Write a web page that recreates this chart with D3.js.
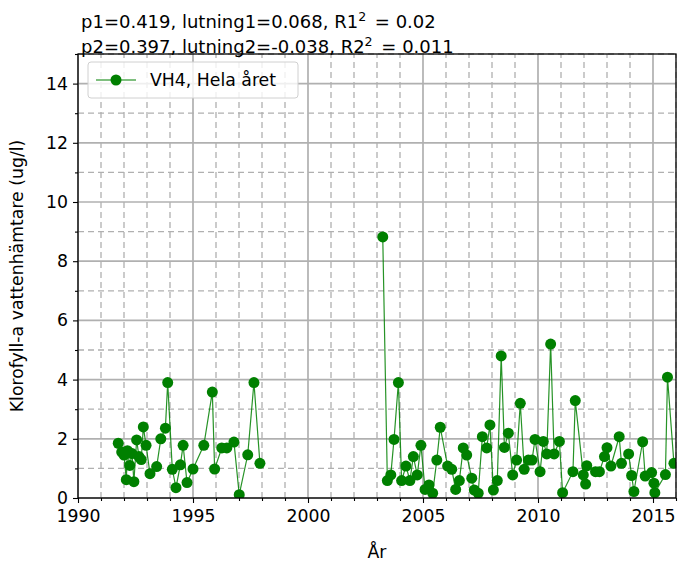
<!DOCTYPE html>
<html>
<head>
<meta charset="utf-8">
<script src="https://cdn.jsdelivr.net/npm/d3@7"></script>
<style>
  body { margin: 0; background: #fff; }
  text { font-family: "DejaVu Sans", sans-serif; }
</style>
</head>
<body>
<svg id="chart" width="678" height="562"></svg>
<script>
// --------------------------
// DATA
// --------------------------
const seriesName = "VH4, Hela året";

// decimal year of each sample, null = break in the line
const years = [
    1991.75, 1991.9, 1992.0, 1992.1, 1992.15, 1992.25, 1992.35, 1992.43, 1992.55, 1992.65,
    1992.75, 1992.84, 1992.96, 1993.13, 1993.42, 1993.6, 1993.8, 1993.9, 1994.1, 1994.26,
    1994.45, 1994.57, 1994.74, 1995.0, 1995.47, 1995.84, 1995.94, 1996.25, 1996.47, 1996.78,
    1997.01, 1997.38, 1997.65, 1997.91,
    null,
    2003.25, 2003.45, 2003.6, 2003.74, 2003.93, 2004.07, 2004.26, 2004.43, 2004.58, 2004.75,
    2004.91, 2005.09, 2005.26, 2005.42, 2005.6, 2005.75, 2006.07, 2006.25, 2006.42, 2006.58,
    2006.75, 2006.9, 2007.12, 2007.23, 2007.4, 2007.58, 2007.77, 2007.91, 2008.06, 2008.23,
    2008.4, 2008.54, 2008.71, 2008.9, 2009.07, 2009.23, 2009.4, 2009.58, 2009.74, 2009.87,
    2010.09, 2010.23, 2010.38, 2010.55, 2010.7, 2010.93, 2011.07, 2011.52, 2011.62, 2011.97,
    2012.07, 2012.12, 2012.5, 2012.67, 2012.89, 2013.0, 2013.17, 2013.53, 2013.63, 2013.94,
    2014.07, 2014.17, 2014.55, 2014.66, 2014.94, 2015.04, 2015.08, 2015.54, 2015.63, 2015.91
];

// Klorofyll-a (ug/l)
const chl = [
    1.85, 1.55, 1.45, 0.62, 1.6, 1.1, 1.5, 0.55, 1.96, 1.4,
    1.3, 2.4, 1.78, 0.82, 1.06, 2.0, 2.36, 3.9, 0.97, 0.35,
    1.12, 1.78, 0.52, 0.98, 1.78, 3.58, 0.98, 1.69, 1.69, 1.89,
    0.11, 1.46, 3.9, 1.17,
    null,
    8.82, 0.59, 0.78, 1.98, 3.9, 0.59, 1.08, 0.59, 1.4, 0.78,
    1.78, 0.29, 0.44, 0.16, 1.28, 2.39, 1.08, 0.97, 0.29, 0.59,
    1.69, 1.45, 0.67, 0.27, 0.16, 2.07, 1.69, 2.47, 0.27, 0.59,
    4.8, 1.71, 2.19, 0.78, 1.28, 3.2, 0.97, 1.28, 1.28, 1.98,
    0.89, 1.91, 1.49, 5.2, 1.49, 1.91, 0.18, 0.89, 3.29, 0.78,
    0.47, 1.09, 0.89, 0.89, 1.4, 1.7, 1.08, 2.07, 1.17, 1.49,
    0.76, 0.22, 1.9, 0.74, 0.86, 0.5, 0.18, 0.79, 4.08, 1.17
];

const xMajorTicks = [1990, 1995, 2000, 2005, 2010, 2015];
const yMajorTicks = [0, 2, 4, 6, 8, 10, 12, 14];

const titleLines = [
    { pre: "p1=0.419, lutning1=0.068, R1", post: " = 0.02" },
    { pre: "p2=0.397, lutning2=-0.038, R2", post: " = 0.011" }
];

const xLabel = "År";
const yLabel = "Klorofyll-a vattenhämtare (ug/l)";

// --------------------------
// SETUP
// --------------------------
const svg = d3.select("#chart");
const width = +svg.attr("width");
const height = +svg.attr("height");
const margin = { top: 54, right: 2, bottom: 64, left: 78 };
const fontSize = 17.3;
const titleSize = 18;
const green = "#008000";
const gridColor = "#b0b0b0";

const x = d3.scaleLinear()
    .domain([1990, 2016])
    .range([margin.left, width - margin.right]);

const y = d3.scaleLinear()
    .domain([0, 15])
    .range([height - margin.bottom, margin.top]);

const data = years.map((yr, i) => ({ year: yr, value: chl[i] }));

const xMinor = d3.range(1990, 2017, 1).filter(v => !xMajorTicks.includes(v));
const yMinor = d3.range(1, 16, 2);

// --------------------------
// GRID
// --------------------------
const grid = svg.append("g");

grid.selectAll(".xminor")
    .data(xMinor)
    .enter().append("line")
    .attr("x1", d => x(d)).attr("x2", d => x(d))
    .attr("y1", y(0)).attr("y2", y(15))
    .attr("stroke", gridColor)
    .attr("stroke-width", 1.3)
    .attr("stroke-dasharray", "6,4");

grid.selectAll(".yminor")
    .data(yMinor)
    .enter().append("line")
    .attr("x1", x(1990)).attr("x2", x(2016))
    .attr("y1", d => y(d)).attr("y2", d => y(d))
    .attr("stroke", gridColor)
    .attr("stroke-width", 1.3)
    .attr("stroke-dasharray", "6,4");

grid.selectAll(".xmajor")
    .data(xMajorTicks)
    .enter().append("line")
    .attr("x1", d => x(d)).attr("x2", d => x(d))
    .attr("y1", y(0)).attr("y2", y(15))
    .attr("stroke", gridColor)
    .attr("stroke-width", 1.7);

grid.selectAll(".ymajor")
    .data(yMajorTicks)
    .enter().append("line")
    .attr("x1", x(1990)).attr("x2", x(2016))
    .attr("y1", d => y(d)).attr("y2", d => y(d))
    .attr("stroke", gridColor)
    .attr("stroke-width", 1.7);

// --------------------------
// SERIES
// --------------------------
svg.append("clipPath").attr("id", "plotclip")
    .append("rect")
    .attr("x", margin.left).attr("y", margin.top)
    .attr("width", width - margin.left - margin.right)
    .attr("height", height - margin.top - margin.bottom);

const plot = svg.append("g").attr("clip-path", "url(#plotclip)");

const line = d3.line()
    .defined(d => d.value !== null)
    .x(d => x(d.year))
    .y(d => y(d.value));

plot.append("path")
    .datum(data)
    .attr("d", line)
    .attr("fill", "none")
    .attr("stroke", green)
    .attr("stroke-opacity", 0.85)
    .attr("stroke-width", 1.2);

plot.selectAll("circle")
    .data(data.filter(d => d.value !== null))
    .enter().append("circle")
    .attr("cx", d => x(d.year))
    .attr("cy", d => y(d.value))
    .attr("r", 5.5)
    .attr("fill", green);

// --------------------------
// AXES
// --------------------------
svg.append("g")
    .attr("transform", `translate(0,${y(0)})`)
    .call(d3.axisBottom(x).tickValues(xMajorTicks).tickFormat(d3.format("d")).tickSize(5).tickPadding(7));

svg.append("g")
    .attr("transform", `translate(0,${y(0)})`)
    .call(d3.axisBottom(x).tickValues(xMinor).tickFormat("").tickSize(3));

svg.append("g")
    .attr("transform", `translate(${x(1990)},0)`)
    .call(d3.axisLeft(y).tickValues(yMajorTicks).tickSize(5).tickPadding(5));

svg.append("g")
    .attr("transform", `translate(${x(1990)},0)`)
    .call(d3.axisLeft(y).tickValues(yMinor).tickFormat("").tickSize(3));

svg.selectAll(".tick text")
    .attr("font-family", "DejaVu Sans")
    .attr("font-size", fontSize)
    .attr("fill", "#000");
svg.selectAll(".tick line").attr("stroke", "#000").attr("stroke-width", 1.1);
svg.selectAll(".domain").remove();

// frame
svg.append("rect")
    .attr("x", margin.left).attr("y", margin.top)
    .attr("width", width - margin.left - margin.right)
    .attr("height", height - margin.top - margin.bottom)
    .attr("fill", "none")
    .attr("stroke", "#000")
    .attr("stroke-width", 1.3);

// axis labels
svg.append("text")
    .attr("x", (margin.left + width - margin.right) / 2)
    .attr("y", height - 4)
    .attr("text-anchor", "middle")
    .attr("font-size", fontSize)
    .text(xLabel);

svg.append("text")
    .attr("transform", `translate(23,${(margin.top + height - margin.bottom) / 2}) rotate(-90)`)
    .attr("text-anchor", "middle")
    .attr("font-size", fontSize)
    .text(yLabel);

// --------------------------
// TITLE (two lines)
// --------------------------
titleLines.forEach((t, i) => {
    const txt = svg.append("text")
        .attr("x", x(1990) + 3)
        .attr("y", 28 + i * 25)
        .attr("font-size", titleSize);
    txt.append("tspan").text(t.pre);
    txt.append("tspan").attr("dy", -7.5).attr("font-size", titleSize * 0.7).text("2");
    txt.append("tspan").attr("dy", 7.5).attr("dx", 3).text(t.post);
});

// --------------------------
// LEGEND
// --------------------------
const legend = svg.append("g").attr("transform", `translate(${margin.left + 10},${margin.top + 8})`);

legend.append("rect")
    .attr("width", 210).attr("height", 36)
    .attr("rx", 3)
    .attr("fill", "#fff").attr("fill-opacity", 0.8)
    .attr("stroke", "#d0d0d0");

legend.append("line")
    .attr("x1", 8).attr("x2", 48)
    .attr("y1", 18).attr("y2", 18)
    .attr("stroke", green)
    .attr("stroke-width", 1.2);

legend.append("circle")
    .attr("cx", 28).attr("cy", 18).attr("r", 5.5)
    .attr("fill", green);

legend.append("text")
    .attr("x", 62).attr("y", 18)
    .attr("dy", "0.35em")
    .attr("font-size", fontSize)
    .text(seriesName);
</script>
</body>
</html>
